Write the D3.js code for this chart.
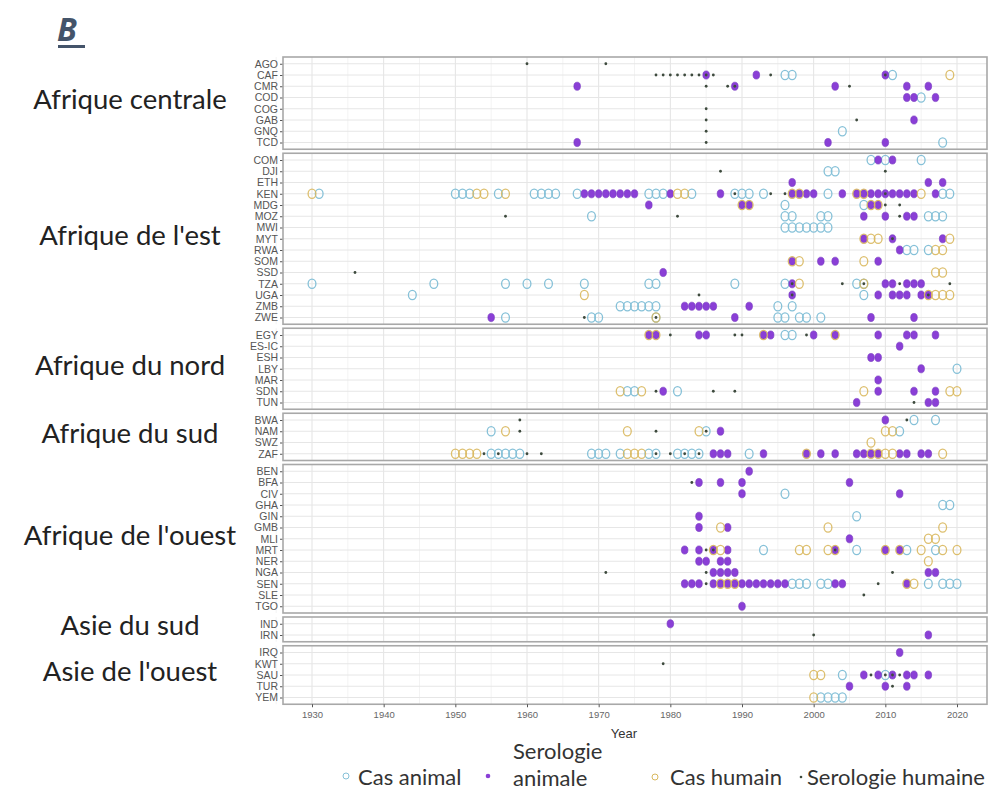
<!DOCTYPE html>
<html>
<head>
    <meta charset="utf-8">
    <script src="https://cdn.jsdelivr.net/npm/d3@7/dist/d3.min.js"></script>
    <style>
        body { margin: 0; background: #fff; }
    </style>
</head>
<body>
<svg width="989" height="794"></svg>
<script>

    // regions (facets) and the countries in each one
    var regions = ["Afrique centrale", "Afrique de l'est", "Afrique du nord", "Afrique du sud",
                   "Afrique de l'ouest", "Asie du sud", "Asie de l'ouest"];
    var regionCountries = [
        ["AGO", "CAF", "CMR", "COD", "COG", "GAB", "GNQ", "TCD"],
        ["COM", "DJI", "ETH", "KEN", "MDG", "MOZ", "MWI", "MYT", "RWA", "SOM", "SSD", "TZA", "UGA", "ZMB", "ZWE"],
        ["EGY", "ES-IC", "ESH", "LBY", "MAR", "SDN", "TUN"],
        ["BWA", "NAM", "SWZ", "ZAF"],
        ["BEN", "BFA", "CIV", "GHA", "GIN", "GMB", "MLI", "MRT", "NER", "NGA", "SEN", "SLE", "TGO"],
        ["IND", "IRN"],
        ["IRQ", "KWT", "SAU", "TUR", "YEM"]
    ];
    var yearTicks = [1930, 1940, 1950, 1960, 1970, 1980, 1990, 2000, 2010, 2020];

    // years with an event, per country, one list per type
    var casAnimal = {
        CAF: [1996, 1997, 2011], COD: [2015], GNQ: [2004], TCD: [2018],
        COM: [2008, 2010, 2015], DJI: [2002, 2003],
        KEN: [1931, 1950, 1951, 1952, 1956, 1961, 1962, 1963, 1964, 1967, 1977, 1978, 1979, 1983, 1989, 1990, 1991, 1993, 2002, 2018, 2019],
        MDG: [1996, 2007], MOZ: [1969, 1996, 1997, 2001, 2002, 2016, 2017, 2018],
        MWI: [1996, 1997, 1998, 1999, 2000, 2001, 2002], RWA: [2013, 2014, 2016],
        TZA: [1930, 1947, 1957, 1960, 1963, 1968, 1977, 1978, 1989, 1996, 2006, 2007],
        UGA: [1944, 2007], ZMB: [1973, 1974, 1975, 1976, 1977, 1978, 1995, 1997],
        ZWE: [1957, 1969, 1970, 1978, 1995, 1996, 1998, 1999, 2001],
        EGY: [1996, 1997], LBY: [2020], SDN: [1974, 1975, 1981],
        BWA: [2014, 2017], NAM: [1955, 1985, 2012],
        ZAF: [1955, 1956, 1957, 1958, 1959, 1969, 1970, 1971, 1973, 1977, 1978, 1981, 1982, 1983, 1984, 1991],
        CIV: [1996], GHA: [2018, 2019], GIN: [2006], MRT: [1993, 2006, 2013, 2017],
        SEN: [1997, 1998, 1999, 2001, 2002, 2016, 2018, 2019, 2020],
        SAU: [2004, 2010], YEM: [2001, 2002, 2003, 2004]
    };
    var serologieAnimale = {
        CAF: [1985, 1992, 2010], CMR: [1967, 1989, 2003, 2013, 2016], COD: [2013, 2014, 2017],
        GAB: [2014], TCD: [1967, 2002, 2010],
        COM: [2009, 2011], ETH: [1997, 2016, 2018],
        KEN: [1968, 1969, 1970, 1971, 1972, 1973, 1974, 1975, 1980, 1987, 1997, 1998, 1999, 2000, 2004, 2006, 2007, 2008, 2009, 2010, 2011, 2012, 2013, 2014, 2017],
        MDG: [1977, 1990, 1991, 2008, 2009], MOZ: [2007, 2010, 2013, 2014], MYT: [2007, 2011, 2018],
        RWA: [2012], SOM: [1997, 2001, 2003, 2009], SSD: [1979],
        TZA: [1997, 2010, 2011, 2013, 2014, 2015], UGA: [1997, 2009, 2011, 2012, 2013, 2015, 2016],
        ZMB: [1982, 1983, 1984, 1985, 1986, 1991], ZWE: [1955, 1989, 2008, 2014],
        EGY: [1977, 1978, 1984, 1985, 1993, 1994, 2000, 2003, 2009, 2013, 2014, 2017],
        "ES-IC": [2012], ESH: [2008, 2009], LBY: [2015], MAR: [2009], SDN: [1979, 2009, 2014, 2017],
        TUN: [2006, 2016, 2017],
        BWA: [2010], NAM: [1987],
        ZAF: [1986, 1987, 1988, 1993, 1999, 2001, 2003, 2006, 2007, 2008, 2009, 2012, 2013, 2015, 2016],
        BEN: [1991], BFA: [1984, 1987, 1990, 2005], CIV: [1990, 2012], GIN: [1984], GMB: [1984, 1988],
        MLI: [2005], MRT: [1982, 1984, 1986, 1988, 2003, 2010, 2012], NER: [1984, 1985, 1987, 1988],
        NGA: [1986, 1987, 1988, 1989, 2016, 2017],
        SEN: [1982, 1983, 1984, 1986, 1987, 1988, 1989, 1990, 1991, 1992, 1993, 1994, 1995, 1996, 2003, 2004, 2013],
        TGO: [1990], IND: [1980], IRN: [2016], IRQ: [2012],
        SAU: [2007, 2009, 2011, 2013, 2014, 2016], TUR: [2005, 2010, 2013]
    };
    var casHumain = {
        CAF: [2019],
        KEN: [1930, 1953, 1954, 1957, 1981, 1982, 1997, 1998, 2006, 2007, 2015],
        MDG: [1990, 1991, 2008, 2009], MYT: [2007, 2008, 2009, 2019], RWA: [2017, 2018],
        SOM: [1997, 1998, 2007], SSD: [2017, 2018], TZA: [1998, 2007], UGA: [1968, 2016, 2017, 2018, 2019],
        ZWE: [1978],
        EGY: [1977, 1978, 1993, 2003], SDN: [1973, 1976, 2007, 2019, 2020],
        NAM: [1957, 1974, 1984, 2010, 2011], SWZ: [2008],
        ZAF: [1950, 1951, 1952, 1953, 1974, 1975, 1976, 1999, 2008, 2009, 2010, 2011, 2018],
        GMB: [1987, 2002, 2018], MLI: [2016, 2017],
        MRT: [1986, 1987, 1998, 1999, 2002, 2003, 2010, 2012, 2015, 2018, 2020], NER: [2016],
        SEN: [1987, 1988, 1989, 2013, 2014],
        SAU: [2000, 2001], YEM: [2000]
    };
    var serologieHumaine = {
        AGO: [1960, 1971], CAF: [1978, 1979, 1980, 1981, 1982, 1983, 1984, 1985, 1986, 1994, 2010],
        CMR: [1985, 1988, 1989, 2005], COG: [1985], GAB: [1985, 2006], GNQ: [1985], TCD: [1985],
        DJI: [1987, 2010], KEN: [1989, 1994, 1996, 2010], MDG: [2010, 2012], MOZ: [1957, 1981, 2012],
        MYT: [2011], SSD: [1936], TZA: [1997, 2004, 2007, 2012, 2019], UGA: [1984, 1997, 2016],
        ZWE: [1968, 1978],
        EGY: [1980, 1989, 1990, 1999], SDN: [1978, 1986, 1989], TUN: [2014],
        BWA: [1959, 2013], NAM: [1959, 1978, 1985], ZAF: [1954, 1956, 1960, 1962, 1978, 1980, 1982, 1984],
        BFA: [1983], MRT: [1985, 1986, 2003], NGA: [1971, 1985, 2011], SEN: [1985, 2009], SLE: [2007],
        IRN: [2000], KWT: [1979], SAU: [2008, 2010, 2011, 2012], TUR: [2011]
    };

    var legendLabels = ["Cas animal", "Serologie animale", "Cas humain", "Serologie humaine"];

    var svg = d3.select("svg");

    var plotLeft = 283, plotRight = 987, plotTop = 57, gap = 4, unit = 11.25;

    var x = d3.scaleLinear().domain([1930, 2020]).range([312, 957]);

    // one point scale per facet, heights follow the number of countries
    var panels = [];
    var y0 = plotTop;
    regions.forEach(function(r, i) {
        var n = regionCountries[i].length;
        var h = (n + 0.2) * unit;
        var sc = d3.scalePoint().domain(regionCountries[i]).range([y0, y0 + h]).padding(0.6);
        panels.push({name: r, top: y0, height: h, y: sc});
        y0 += h + gap;
    });
    var plotBottom = y0 - gap;

    var yOf = {};
    panels.forEach(function(p) {
        p.y.domain().forEach(function(c) { yOf[c] = p.y(c); });
    });

    var minorYears = d3.range(1925, 2025, 5).filter(function(d) { return d % 10 !== 0; });

    var gPanels = svg.selectAll(".panel")
        .data(panels)
        .enter()
        .append("g")
        .attr("class", "panel");

    gPanels.append("rect")
        .attr("x", plotLeft)
        .attr("y", function(d) { return d.top; })
        .attr("width", plotRight - plotLeft)
        .attr("height", function(d) { return d.height; })
        .attr("fill", "#fff");

    gPanels.each(function(p) {
        var g = d3.select(this);
        g.selectAll(".minor")
            .data(minorYears)
            .enter().append("line")
            .attr("x1", function(d) { return x(d); })
            .attr("x2", function(d) { return x(d); })
            .attr("y1", p.top).attr("y2", p.top + p.height)
            .attr("stroke", "#f0f0f0").attr("stroke-width", 0.8);
        g.selectAll(".major")
            .data(yearTicks)
            .enter().append("line")
            .attr("x1", function(d) { return x(d); })
            .attr("x2", function(d) { return x(d); })
            .attr("y1", p.top).attr("y2", p.top + p.height)
            .attr("stroke", "#e3e3e3").attr("stroke-width", 1);
        g.selectAll(".hgrid")
            .data(p.y.domain())
            .enter().append("line")
            .attr("x1", plotLeft).attr("x2", plotRight)
            .attr("y1", function(d) { return p.y(d); })
            .attr("y2", function(d) { return p.y(d); })
            .attr("stroke", "#e6e6e6").attr("stroke-width", 1);

        // y axis with country codes
        var ax = g.append("g")
            .attr("transform", "translate(" + plotLeft + ",0)")
            .call(d3.axisLeft(p.y).tickSize(3).tickPadding(2));
        ax.select(".domain").remove();
        ax.selectAll("line").attr("stroke", "#555");
        ax.selectAll("text")
            .attr("fill", "#555")
            .style("font-family", "Liberation Sans, Arial, sans-serif")
            .style("font-size", "10.5px");
    });

    // facet labels on the left
    gPanels.append("text")
        .attr("x", 130)
        .attr("y", function(d) { return d.top + d.height / 2 + 6; })
        .attr("text-anchor", "middle")
        .attr("fill", "#222")
        .style("font-family", "Lato, 'Open Sans', sans-serif")
        .style("font-size", "27.5px")
        .text(function(d) { return d.name; });

    // points, drawn in the order of the legend
    function flatten(series) {
        var out = [];
        Object.keys(series).forEach(function(c) {
            series[c].forEach(function(yr) { out.push({c: c, year: yr}); });
        });
        return out;
    }

    var gPts = svg.append("g");

    gPts.selectAll(".ca")
        .data(flatten(casAnimal))
        .enter().append("ellipse")
        .attr("class", "ca")
        .attr("cx", function(d) { return x(d.year); })
        .attr("cy", function(d) { return yOf[d.c]; })
        .attr("rx", 3.9).attr("ry", 4.6)
        .attr("fill", "none")
        .attr("stroke", "#86c1d8").attr("stroke-width", 1.3);

    gPts.selectAll(".sa")
        .data(flatten(serologieAnimale))
        .enter().append("ellipse")
        .attr("class", "sa")
        .attr("cx", function(d) { return x(d.year); })
        .attr("cy", function(d) { return yOf[d.c]; })
        .attr("rx", 3.3).attr("ry", 4.1)
        .attr("fill", "#8a3fd6")
        .attr("stroke", "#7434c0").attr("stroke-width", 0.6);

    gPts.selectAll(".ch")
        .data(flatten(casHumain))
        .enter().append("ellipse")
        .attr("class", "ch")
        .attr("cx", function(d) { return x(d.year); })
        .attr("cy", function(d) { return yOf[d.c]; })
        .attr("rx", 3.9).attr("ry", 4.6)
        .attr("fill", "none")
        .attr("stroke", "#d9b85e").attr("stroke-width", 1.3)
        .attr("stroke-opacity", 0.9);

    gPts.selectAll(".sh")
        .data(flatten(serologieHumaine))
        .enter().append("circle")
        .attr("class", "sh")
        .attr("cx", function(d) { return x(d.year); })
        .attr("cy", function(d) { return yOf[d.c]; })
        .attr("r", 1.4)
        .attr("fill", "#3d4a3d");

    // panel borders on top
    gPanels.append("rect")
        .attr("x", plotLeft)
        .attr("y", function(d) { return d.top; })
        .attr("width", plotRight - plotLeft)
        .attr("height", function(d) { return d.height; })
        .attr("fill", "none")
        .attr("stroke", "#a8a8a8")
        .attr("stroke-width", 1.6);

    // x axis
    var xAxis = svg.append("g")
        .attr("transform", "translate(0," + plotBottom + ")")
        .call(d3.axisBottom(x).tickValues(yearTicks).tickFormat(d3.format("d")).tickSize(3).tickPadding(4));
    xAxis.select(".domain").remove();
    xAxis.selectAll("line").attr("stroke", "#555");
    xAxis.selectAll("text")
        .attr("fill", "#666")
        .style("font-family", "Liberation Sans, Arial, sans-serif")
        .style("font-size", "9.5px");

    svg.append("text")
        .attr("x", 624).attr("y", 738)
        .attr("text-anchor", "middle")
        .attr("fill", "#333")
        .style("font-family", "Liberation Sans, Arial, sans-serif")
        .style("font-size", "13px")
        .text("Year");

    // title letter
    svg.append("text")
        .attr("x", 57).attr("y", 41)
        .attr("fill", "#44546a")
        .style("font-family", "'Open Sans', sans-serif")
        .style("font-size", "32px")
        .style("font-weight", "bold")
        .style("font-style", "italic")
        .text("B");
    svg.append("rect")
        .attr("x", 58).attr("y", 45).attr("width", 27).attr("height", 3)
        .attr("fill", "#44546a");

    // legend
    var legendFont = "Lato, 'Open Sans', sans-serif";
    var lg = svg.append("g").style("font-family", legendFont).style("font-size", "22px").attr("fill", "#333");

    lg.append("circle").attr("cx", 346).attr("cy", 776).attr("r", 3)
        .attr("fill", "none").attr("stroke", "#86c1d8").attr("stroke-width", 1);
    lg.append("text").attr("x", 358).attr("y", 785).text(legendLabels[0]);

    lg.append("circle").attr("cx", 488).attr("cy", 776).attr("r", 2.3).attr("fill", "#8a3fd6");
    var words = legendLabels[1].split(" ");
    lg.append("text").attr("x", 513).attr("y", 759).text(words[0]);
    lg.append("text").attr("x", 513).attr("y", 786).text(words[1]);

    lg.append("circle").attr("cx", 655).attr("cy", 777).attr("r", 3)
        .attr("fill", "none").attr("stroke", "#d9b85e").attr("stroke-width", 1);
    lg.append("text").attr("x", 670).attr("y", 785).text(legendLabels[2]);

    lg.append("circle").attr("cx", 801).attr("cy", 777).attr("r", 1.3).attr("fill", "#3d4a3d");
    lg.append("text").attr("x", 807).attr("y", 785).text(legendLabels[3]);

</script>
</body>
</html>
